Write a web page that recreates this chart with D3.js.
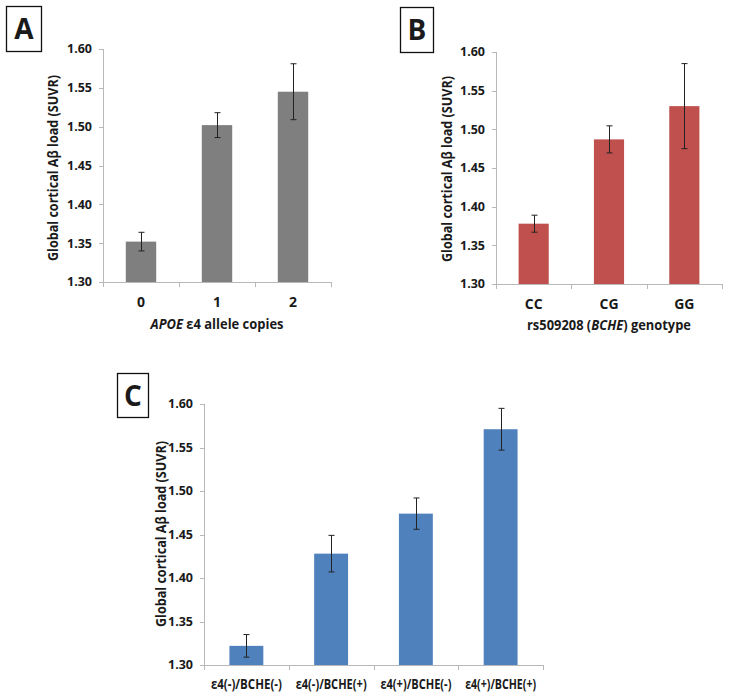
<!DOCTYPE html>
<html>
<head>
<meta charset="utf-8">
<script src="https://cdn.jsdelivr.net/npm/d3@7/dist/d3.min.js"></script>
<style>
  html, body { margin: 0; padding: 0; background: #fff; }
  svg { display: block; }
  text { font-family: "Open Sans", "Liberation Sans", sans-serif; font-weight: bold; fill: #1a1a1a; }
</style>
</head>
<body>
<svg id="chart" width="729" height="698"></svg>
<script>
// ---- data ----
const yTicks = [1.30, 1.35, 1.40, 1.45, 1.50, 1.55, 1.60];
const yTitle = "Global cortical A\u03b2 load (SUVR)";

const catsA = ["0", "1", "2"];
const valsA = [1.352, 1.502, 1.545];
const errA  = [0.012, 0.016, 0.036];

const catsB = ["CC", "CG", "GG"];
const valsB = [1.378, 1.487, 1.530];
const errB  = [0.011, 0.0175, 0.055];

const catsC = ["\u03b54(-)/BCHE(-)", "\u03b54(-)/BCHE(+)", "\u03b54(+)/BCHE(-)", "\u03b54(+)/BCHE(+)"];
const valsC = [1.322, 1.428, 1.474, 1.571];
const errC  = [0.013, 0.021, 0.018, 0.024];

const svg = d3.select("#chart");

function panel(o) {
  const g = svg.append("g");
  const x = d3.scaleBand().domain(o.cats).range([o.x0, o.x1]).paddingInner(0.6).paddingOuter(0.3);
  const xb = d3.scaleBand().domain(o.cats).range([o.x0, o.x1]);
  const y = d3.scaleLinear().domain([1.30, 1.60]).range([o.yb, o.yt]);

  // y axis
  g.append("line").attr("x1", o.x0 + 0.5).attr("x2", o.x0 + 0.5).attr("y1", y(1.60)).attr("y2", y(1.30))
    .attr("stroke", "#b8b8b8").attr("stroke-width", 1);
  g.selectAll(".yt").data(yTicks).enter().append("line")
    .attr("x1", o.x0 - 4).attr("x2", o.x0 + 0.5)
    .attr("y1", d => Math.round(y(d)) + 0.5).attr("y2", d => Math.round(y(d)) + 0.5)
    .attr("stroke", "#b8b8b8");
  g.selectAll(".yl").data(yTicks).enter().append("text")
    .attr("x", o.x0 - 11).attr("y", d => y(d)).attr("dy", "0.35em")
    .attr("text-anchor", "end").attr("font-size", o.tickFs).text(d => d.toFixed(2));

  // x axis
  g.append("line").attr("x1", o.x0).attr("x2", o.x1).attr("y1", Math.round(y(1.30)) + 0.5).attr("y2", Math.round(y(1.30)) + 0.5)
    .attr("stroke", "#b8b8b8");
  const bounds = o.cats.map(c => xb(c)).concat([o.x1]);
  g.selectAll(".xt").data(bounds).enter().append("line")
    .attr("x1", d => Math.round(d) + 0.5).attr("x2", d => Math.round(d) + 0.5)
    .attr("y1", Math.round(y(1.30))).attr("y2", Math.round(y(1.30)) + 5)
    .attr("stroke", "#b8b8b8");

  // bars
  g.selectAll(".bar").data(o.vals).enter().append("rect")
    .attr("x", (d, i) => x(o.cats[i])).attr("width", x.bandwidth())
    .attr("y", d => y(d)).attr("height", d => y(1.30) - y(d))
    .attr("fill", o.color);

  // error bars
  const cx = i => Math.round(x(o.cats[i]) + x.bandwidth() / 2) + 0.5;
  o.vals.forEach((v, i) => {
    const e = o.errs[i];
    g.append("line").attr("x1", cx(i)).attr("x2", cx(i)).attr("y1", y(v + e)).attr("y2", y(v - e))
      .attr("stroke", "#222").attr("stroke-width", 1);
    [v + e, v - e].forEach(w => {
      g.append("line").attr("x1", cx(i) - 3).attr("x2", cx(i) + 3).attr("y1", y(w)).attr("y2", y(w))
        .attr("stroke", "#222").attr("stroke-width", 1);
    });
  });

  // x labels
  const xl = g.selectAll(".xl").data(o.cats).enter().append("text")
    .attr("x", d => xb(d) + xb.bandwidth() / 2).attr("y", y(1.30) + o.xlOff).attr("dy", "0.35em")
    .attr("text-anchor", "middle").attr("font-size", o.xFs).text(d => d);
  if (o.xlLen) xl.attr("textLength", o.xlLen).attr("lengthAdjust", "spacingAndGlyphs");

  // y title
  g.append("text")
    .attr("transform", `translate(${o.ytx},${o.yty}) rotate(-90)`)
    .attr("text-anchor", "middle").attr("dy", "0.35em").attr("font-size", o.titleFs)
    .attr("textLength", 186).attr("lengthAdjust", "spacingAndGlyphs")
    .text(yTitle);

  // x title
  if (o.xTitle) {
    const t = g.append("text").attr("x", o.xtx).attr("y", o.xty).attr("dy", "0.35em")
      .attr("text-anchor", "middle").attr("font-size", o.xtFs)
      .attr("textLength", o.xtLen).attr("lengthAdjust", "spacingAndGlyphs");
    o.xTitle.forEach(p => t.append("tspan").attr("font-style", p.i ? "italic" : "normal").text(p.t));
  }

  // panel letter box
  g.append("rect").attr("x", o.box[0] + 0.5).attr("y", o.box[1] + 0.5)
    .attr("width", o.box[2]).attr("height", o.box[3])
    .attr("fill", "#fff").attr("stroke", "#111").attr("stroke-width", 1.3);
  g.append("text").attr("x", o.box[0] + o.box[2] / 2 + 0.5).attr("y", o.box[1] + o.box[3] / 2 + 1)
    .attr("dy", "0.35em").attr("text-anchor", "middle").attr("font-size", 28)
    .attr("font-family", "Liberation Sans, Arial, sans-serif")
    .text(o.letter);
}

panel({
  cats: catsA, vals: valsA, errs: errA, color: "#7f7f7f",
  x0: 103, x1: 331, yt: 49, yb: 282, tickFs: 12.5, xFs: 14, titleFs: 13.5, xtFs: 13.5, xtLen: 133, xlOff: 20,
  ytx: 53, yty: 168, xtx: 217, xty: 324,
  xTitle: [{t: "APOE", i: true}, {t: " \u03b54 allele copies", i: false}],
  box: [6, 6, 35, 45], letter: "A"
});

panel({
  cats: catsB, vals: valsB, errs: errB, color: "#c0504d",
  x0: 496, x1: 722, yt: 52, yb: 284, tickFs: 12.5, xFs: 14, titleFs: 13.5, xtFs: 13.5, xtLen: 164, xlOff: 20,
  ytx: 447, yty: 169, xtx: 609, xty: 325,
  xTitle: [{t: "rs509208 (", i: false}, {t: "BCHE", i: true}, {t: ") genotype", i: false}],
  box: [400, 7, 33, 45], letter: "B"
});

panel({
  cats: catsC, vals: valsC, errs: errC, color: "#4f81bd",
  x0: 204, x1: 543, yt: 404, yb: 665, tickFs: 12.5, xFs: 13.5, xlLen: 71, titleFs: 13.5, xlOff: 19,
  ytx: 161, yty: 534, xtx: null, xty: null, xTitle: null,
  box: [117, 373, 31, 44], letter: "C"
});
</script>
</body>
</html>
